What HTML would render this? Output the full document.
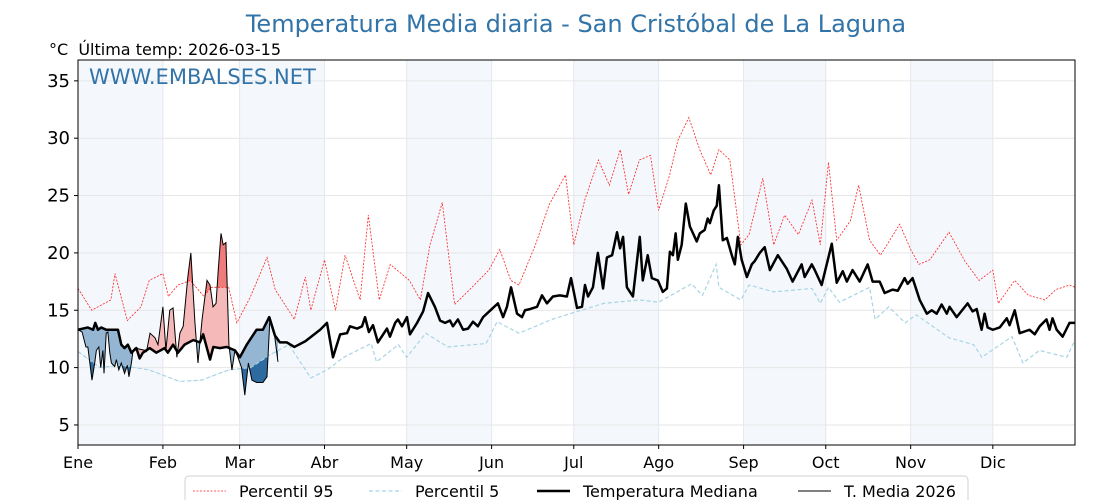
<!DOCTYPE html>
<html><head><meta charset="utf-8">
<style>
html,body{margin:0;padding:0;background:#fff;width:1120px;height:500px;overflow:hidden;}
svg{display:block;font-family:"DejaVu Sans","Liberation Sans",sans-serif;}
</style></head>
<body>
<svg id="chart" width="1120" height="500" viewBox="0 0 1120 500">
<text x="576" y="32" text-anchor="middle" font-size="24" fill="#3274a8">Temperatura Media diaria - San Cristóbal de La Laguna</text>
<text x="49" y="55" font-size="16" fill="#000" style="white-space:pre" xml:space="preserve">°C  Última temp: 2026-03-15</text>
<g id="plot"></g>
</svg>
<script>
const monthLabels=["Ene","Feb","Mar","Abr","May","Jun","Jul","Ago","Sep","Oct","Nov","Dic"];
const monthStarts=[0,31,59,90,120,151,181,212,243,273,304,334];
const yTicks=[5,10,15,20,25,30,35];
const p95Days=[0,5,12,13.5,18,23,26,31,33,36.5,41,46,48.5,55,58,63,69,72,79,83,85,90,94,97.5,103,106,110,114,121,125,128.5,133,137.5,143,150,154,158,161,167,172,178,181,185,190,194,198,201,205,209,212,216,219,223,227,231,234,238,242,245,250,254,258,263,268,271,274,277,282,285,289,293,300,304,307,311,318,324,329,334,336,342,347,353,357,362,364];
const p95Vals=[16.9,15.0,15.9,18.2,14.1,15.3,17.6,18.2,16.2,17.2,17.6,16.2,17.0,17.0,13.9,16.2,19.6,16.8,14.2,17.9,15.0,19.4,15.0,19.8,15.9,23.3,15.9,19.0,17.6,15.9,20.7,24.4,15.5,16.8,18.5,20.3,17.6,17.2,20.7,24.2,26.8,20.7,24.6,28.1,25.9,29.0,25.1,28.1,28.5,23.7,26.8,29.8,31.8,29.0,26.8,29.0,28.1,20.7,21.6,26.5,20.7,23.3,21.6,24.6,20.7,27.9,21.1,22.8,25.9,21.1,19.8,22.5,20.3,19.0,19.4,21.8,19.2,17.6,18.5,15.6,17.6,16.3,15.9,16.8,17.2,17.0];
const p5Days=[0,8,15,26,37,45,55,63,70,77,85,91,97,107,109,117,120,127,135,149,153,161,173,181,192,205,212,224,228,233,234,242,245,254,268,271,274,278,289,291,296,302,306,318,327,330,341,345,351,361,364];
const p5Vals=[11.4,10.0,10.2,9.8,8.8,8.9,9.8,10.0,11.1,12.0,9.1,9.8,10.9,12.1,10.5,12.0,10.9,13.0,11.8,12.1,14.0,13.0,14.2,14.8,15.6,15.9,15.7,17.3,16.3,19.0,17.0,15.9,17.2,16.6,16.9,15.6,17.0,15.7,17.0,14.2,15.3,13.9,14.6,12.6,12.0,10.9,12.7,10.4,11.5,10.9,12.4];
const medDays=[0,3.6,5.5,6.3,7.3,8.5,10.3,14.6,15.8,17.0,18.2,19.5,21.3,22.5,23.7,26.2,28.6,31.6,32.8,34.7,36.5,38.9,42.1,44.5,45.7,48.2,49.4,51.8,54.3,57.3,59.1,61.6,65.2,67.5,69.8,71.9,73.7,76.2,79,83,
88.4,90.9,93.1,95.7,98.2,99.3,101.9,103.7,104.8,106.2,107.7,109.5,112.8,113.9,115.8,116.8,118.3,120.1,121.2,123.8,126.0,127.8,130.3,132.2,134.0,135.8,136.9,138.7,140.6,142.4,144.2,146.0,147.9,149.7,151.5,153.3,155.2,156.6,158.1,160.3,162.1,163.2,165.0,167.6,169.4,171.2,173.4,175.9,178.5,180.0,182.2,184.0,185.1,186.2,188.0,189.8,191.7,193.1,195.0,196.8,197.9,199.0,200.4,202.6,
205.1,206.2,208.0,209.5,211.7,213.5,215.0,216.1,217.2,218.2,219.0,220.4,221.9,223.4,225.9,227.0,228.8,229.9,230.7,232.1,233.2,234.0,235.4,236.9,238.7,239.8,240.9,242.3,244.2,246.0,247.1,248.9,250.7,252.6,255.5,258.8,260.9,264.2,265.3,267.9,269.0,271.5,275.2,277.0,279.2,280.7,282.8,285.4,288.3,290.1,292.7,294.5,297.4,299.3,301.8,302.9,304.7,307.3,309.9,311.7,313.5,315.3,317.2,318.2,320.8,324.8,326.6,328.1,329.9,331.0,332.1,334.0,336.5,339.1,340.1,342.0,343.8,347.4,349.3,351.1,353.6,354.7,355.8,357.3,359.5,362.0,364];
const medVals=[13.3,13.5,13.3,13.9,13.3,13.5,13.3,13.3,12.0,11.7,12.0,11.3,11.7,10.8,11.3,11.7,11.3,11.7,11.3,12.0,11.3,12.0,12.4,12.2,12.9,10.7,11.8,11.7,11.8,11.5,10.9,12.0,13.3,13.3,14.4,12.8,12.2,12.2,11.8,12.3,
13.3,13.9,10.9,12.9,13.0,13.6,13.4,13.6,14.4,13.1,13.7,12.2,13.4,12.7,13.9,14.2,13.6,14.4,12.9,13.9,14.9,16.5,15.3,14.1,13.9,14.1,13.6,14.2,13.3,13.4,14.0,13.6,14.4,14.8,15.2,15.6,14.4,15.3,17.0,14.7,14.4,15.0,15.1,15.3,16.3,15.6,16.2,16.3,16.2,17.8,15.2,15.3,17.2,16.2,17.0,20.0,16.9,19.6,19.8,21.8,20.4,21.4,17.0,16.2,
21.4,17.6,19.8,17.8,17.6,16.6,16.9,20.1,19.8,21.7,19.4,20.7,24.3,22.3,21.0,21.7,22.0,23.0,22.6,23.7,24.1,25.9,21.1,21.3,19.8,19.0,21.4,19.4,17.9,19.0,19.3,20.0,20.5,18.5,19.8,18.6,17.5,19.0,17.9,19.0,18.5,17.2,20.8,17.4,18.4,17.5,18.5,17.5,19.0,17.5,17.5,16.5,16.8,16.7,17.8,17.3,17.8,15.9,14.7,15.0,14.7,15.5,14.7,15.3,14.4,15.6,14.9,15.1,13.3,14.7,13.5,13.3,13.5,14.3,13.7,15.0,13.0,13.3,12.9,13.6,14.2,13.3,14.3,13.3,12.7,13.9,13.9];
const cur26Days=[0,1.5,2.9,3.6,5.1,6.1,6.7,7.6,8.3,9.1,9.5,10.3,10.9,11.6,12.2,13.4,14.0,14.9,15.8,17.0,18.0,18.6,19.5,20.1,20.8,24.5,25,26.3,28.1,29.2,29.9,31.0,32.1,33.5,34.7,36.1,37.2,38.4,40.1,41.2,42.7,43.8,45.3,47.1,48.2,49.3,50.4,51.2,52.2,53.0,54.0,55.1,56.2,57.3,58.4,59.7,60.9,62.2,63.5,65.2,67.5,69.0,70.1,71.5,73.0];
const cur26Vals=[13.3,13.1,11.8,11.8,8.9,10.4,11.5,11.8,10.0,11.5,9.5,13.0,13.1,11.3,10.4,10.1,10.7,9.8,10.4,9.5,10.2,9.2,10.4,11.5,11.7,11.5,11.4,13.0,12.6,12.0,13.3,15.3,11.5,15.0,15.2,10.9,13.0,13.6,17.9,20.0,13.9,10.4,14.2,17.6,17.2,15.3,15.6,18.5,21.7,20.7,20.9,12.0,9.8,11.5,10.9,10.0,7.6,10.4,8.9,8.7,8.7,9.2,14.4,13.3,10.5];

const L=78,R=1075,T=60,B=445;
const xS=d=>L+(R-L)*d/364;
const yS=v=>482.3-11.47*v;
const NS="http://www.w3.org/2000/svg";
const plot=document.getElementById('plot');
function mk(tag,attrs,parent){const e=document.createElementNS(NS,tag);for(const k in attrs)e.setAttribute(k,attrs[k]);(parent||plot).appendChild(e);return e;}
function interp(days,vals,d){if(d<=days[0])return vals[0];for(let i=1;i<days.length;i++){if(d<=days[i]){const t=(d-days[i-1])/(days[i]-days[i-1]);return vals[i-1]+t*(vals[i]-vals[i-1]);}}return vals[vals.length-1];}
function pts(days,vals){return days.map((d,i)=>xS(d).toFixed(2)+","+yS(vals[i]).toFixed(2)).join(" ");}

for(let i=0;i<12;i+=2){
  const x0=xS(monthStarts[i]),x1=xS(monthStarts[i+1]);
  const r=mk('rect',{x:x0,y:T,width:x1-x0,height:B-T,fill:'#f4f8fc'});
  
  
}
yTicks.forEach(v=>{const l=mk('line',{x1:L,x2:R,y1:yS(v),y2:yS(v),stroke:'#e6e6e6','stroke-width':1});
  
  });
monthStarts.forEach((d,i)=>{const l=mk('line',{x1:xS(d),x2:xS(d),y1:T,y2:B,stroke:'#e3e8ee','stroke-width':1});
  
  });

const wm=mk('text',{x:89,y:84,'font-size':21,fill:'#3274a8'});wm.textContent='WWW.EMBALSES.NET';



const defs=mk('defs',{});
function clipFrom(id,days,vals,up){
  const cp=mk('clipPath',{id:id},defs);
  let p=pts(days,vals);
  p+= up ? ` ${xS(days[days.length-1])},${T-50} ${xS(days[0])},${T-50}` : ` ${xS(days[days.length-1])},${B+50} ${xS(days[0])},${B+50}`;
  mk('polygon',{points:p},cp);
}
clipFrom('aboveMed',medDays,medVals,true);clipFrom('belowMed',medDays,medVals,false);
clipFrom('aboveP95',p95Days,p95Vals,true);clipFrom('belowP5',p5Days,p5Vals,false);

function between(refDays,refVals){
  const endD=cur26Days[cur26Days.length-1];
  const fw=cur26Days.map((d,i)=>xS(d).toFixed(2)+","+yS(cur26Vals[i]).toFixed(2));
  const bw=[];for(let d=endD;d>=0;d-=0.25)bw.push(xS(d).toFixed(2)+","+yS(interp(refDays,refVals,d)).toFixed(2));
  bw.push(xS(0)+","+yS(interp(refDays,refVals,0)));
  return fw.concat(bw).join(" ");
}
const fr=mk('polygon',{points:between(medDays,medVals),fill:'#f6b9b9','clip-path':'url(#aboveMed)'});


const fb=mk('polygon',{points:between(medDays,medVals),fill:'#94b6d3','clip-path':'url(#belowMed)'});


const fr2=mk('polygon',{points:between(p95Days,p95Vals),fill:'#f07b7b','clip-path':'url(#aboveP95)'});


const fb2=mk('polygon',{points:between(p5Days,p5Vals),fill:'#2c6aa0','clip-path':'url(#belowP5)'});



const l95=mk('polyline',{points:pts(p95Days,p95Vals),fill:'none',stroke:'#ff2020','stroke-width':0.8,'stroke-dasharray':'2,1.5'});


const l5=mk('polyline',{points:pts(p5Days,p5Vals),fill:'none',stroke:'#a8d4e4','stroke-width':1.2,'stroke-dasharray':'4,2.5'});


const lm=mk('polyline',{points:pts(medDays,medVals),fill:'none',stroke:'#000','stroke-width':2.5,'stroke-linejoin':'round'});


const l26=mk('polyline',{points:pts(cur26Days,cur26Vals),fill:'none',stroke:'#000','stroke-width':1});



const fr0=mk('rect',{x:L,y:T,width:R-L,height:B-T,fill:'none',stroke:'#000','stroke-width':1});



yTicks.forEach(v=>{
  const t=mk('line',{x1:L-4,x2:L,y1:yS(v),y2:yS(v),stroke:'#000'});
  
  
  const tx=mk('text',{x:L-8,y:yS(v)+6,'text-anchor':'end','font-size':18});tx.textContent=v;
  
  
});
monthStarts.forEach((d,i)=>{
  const t=mk('line',{x1:xS(d),x2:xS(d),y1:B,y2:B+4,stroke:'#000'});
  
  
  const tx=mk('text',{x:xS(d),y:B+23,'text-anchor':'middle','font-size':16});tx.textContent=monthLabels[i];
  
  
});

const lg=mk('g',{});


mk('rect',{x:185,y:476,width:783,height:34,rx:4,fill:'#fff',stroke:'#d0d0d0'},lg);
const entries=[
 {x:193,label:'Percentil 95',stroke:'#ff2020',w:0.8,dash:'2,1.5',name:'legend-entry-percentil-95'},
 {x:369,label:'Percentil 5',stroke:'#a8d4e4',w:1.2,dash:'4,2.5',name:'legend-entry-percentil-5'},
 {x:537,label:'Temperatura Mediana',stroke:'#000',w:2.5,dash:'',name:'legend-entry-temperatura-mediana'},
 {x:798,label:'T. Media 2026',stroke:'#000',w:1,dash:'',name:'legend-entry-t-media-2026'}];
entries.forEach(e=>{
  const g=mk('g',{},lg);
  
  
  const a={x1:e.x,x2:e.x+33,y1:491,y2:491,stroke:e.stroke,'stroke-width':e.w};if(e.dash)a['stroke-dasharray']=e.dash;
  mk('line',a,g);
  const t=mk('text',{x:e.x+46,y:497,'font-size':16},g);t.textContent=e.label;
});
</script>
</body></html>
